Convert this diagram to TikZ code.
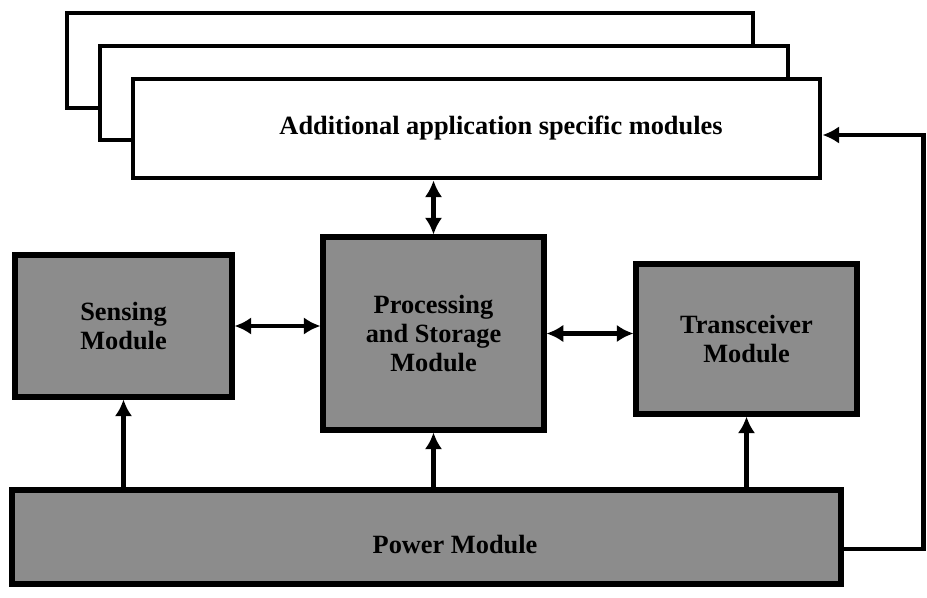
\documentclass[tikz,border=0pt]{standalone}
\usepackage{fontspec}
\setmainfont{Liberation Serif}
\usetikzlibrary{arrows.meta}
\begin{document}
\begin{tikzpicture}[font=\bfseries\fontsize{15}{16.5}\selectfont,
        stackbox/.style={draw, line width=2.8pt, fill=white, inner sep=0pt},
        modbox/.style={draw, line width=2.9pt, fill=black!45, align=center, inner sep=0pt},
        link/.style={line width=2.4pt, >={Latex[length=9.5pt,width=10pt]}}]
        \useasboundingbox (0,0) rectangle (18.54,11.94);
        \node[stackbox, minimum width=13.72cm, minimum height=1.9cm] (app3) at (8.2,10.73) {};
        \node[stackbox, minimum width=13.76cm, minimum height=1.88cm] (app2) at (8.88,10.08) {};
        \node[stackbox, minimum width=13.74cm, minimum height=1.98cm,
                label={[xshift=0.49cm]center:Additional application specific modules}] (app) at (9.53,9.37) {};
        \node[modbox, minimum width=4.34cm, minimum height=2.84cm] (sense) at (2.47,5.42) {Sensing\\Module};
        \node[modbox, minimum width=4.42cm, minimum height=3.86cm] (proc) at (8.67,5.27) {Processing\\and Storage\\Module};
        \node[modbox, minimum width=4.42cm, minimum height=3cm] (trans) at (14.93,5.16) {Transceiver\\Module};
        \node[modbox, minimum width=16.58cm, minimum height=1.88cm,
                label={[xshift=0.57cm, yshift=-0.16cm]center:Power Module}] (power) at (8.53,1.2) {};
        \coordinate (ret) at (18.47,9.24);
        \draw[link, <->] (app.south -| proc.north) -- (proc.north);
        \draw[link, <->] (sense.east) -- (sense.east -| proc.west);
        \draw[link, <->] (proc.east) -- (proc.east -| trans.west);
        \draw[link, ->] (power.north -| sense.south) -- (sense.south);
        \draw[link, ->] (power.north -| proc.south) -- (proc.south);
        \draw[link, ->] (power.north -| trans.south) -- (trans.south);
        \draw[link, ->] ([yshift=-0.24cm]power.east) -| (ret) -- (ret -| app.east);
    \end{tikzpicture}
\end{document}
